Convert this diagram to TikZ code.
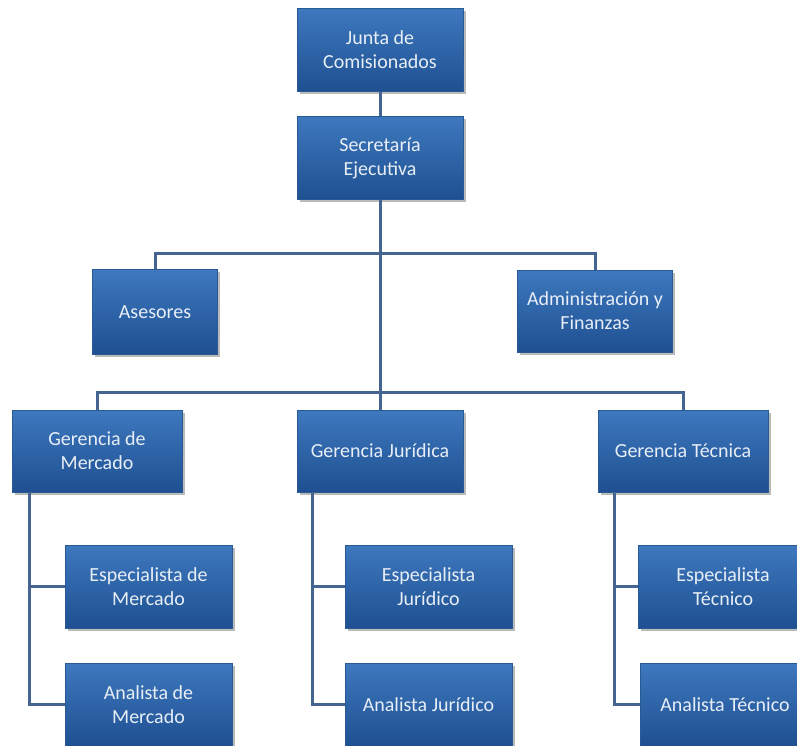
\documentclass[tikz,border=0pt]{standalone}
\usepackage{fontspec}
\setmainfont{Carlito}
\usetikzlibrary{shadows}
\definecolor{boxtop}{RGB}{62,120,190}
\definecolor{boxbot}{RGB}{30,80,145}
\definecolor{boxedge}{RGB}{40,90,150}
\definecolor{conncol}{RGB}{70,100,145}
\definecolor{txtcol}{RGB}{232,238,246}
\tikzset{
  orgbox/.style={draw=boxedge, line width=0.8pt, top color=boxtop, bottom color=boxbot,
    text=txtcol, align=center, inner sep=0pt,
    font=\fontsize{20}{24}\selectfont,
    drop shadow={shadow xshift=2.5pt, shadow yshift=-2.5pt, fill=black!45, opacity=0.6}},
  conn/.style={draw=conncol, line width=3pt}
}
\begin{document}
\begin{tikzpicture}[x=1pt,y=-1pt]
\useasboundingbox (0,0) rectangle (797,745);
\clip (0,0) rectangle (797,745);
\coordinate (b1) at (380,253);
\coordinate (b2) at (380,392);
\node[orgbox, minimum width=166pt, minimum height=83pt] (junta) at (380,50) {Junta de\\Comisionados};
\node[orgbox, minimum width=166pt, minimum height=83pt] (sec) at (380,158) {Secretaría\\Ejecutiva};
\node[orgbox, minimum width=125pt, minimum height=85pt] (ases) at (155,312) {Asesores};
\node[orgbox, minimum width=155pt, minimum height=82pt] (adm) at (595,311) {Administración y\\Finanzas};
\node[orgbox, minimum width=170pt, minimum height=82pt] (gmer) at (97,451) {Gerencia de\\Mercado};
\node[orgbox, minimum width=166pt, minimum height=82pt] (gjur) at (380,451) {Gerencia Jurídica};
\node[orgbox, minimum width=170pt, minimum height=82pt] (gtec) at (683,451) {Gerencia Técnica};
\node[orgbox, minimum width=167pt, minimum height=83pt] (emer) at (148.5,586.5) {Especialista de\\Mercado};
\node[orgbox, minimum width=167pt, minimum height=83pt] (amer) at (148.5,704.5) {Analista de\\Mercado};
\node[orgbox, minimum width=167pt, minimum height=83pt] (ejur) at (428.5,586.5) {Especialista\\Jurídico};
\node[orgbox, minimum width=167pt, minimum height=83pt] (ajur) at (428.5,704.5) {Analista Jurídico};
\node[orgbox, minimum width=170pt, minimum height=83pt] (etec) at (723,586.5) {Especialista\\Técnico};
\node[orgbox, minimum width=170pt, minimum height=83pt] (atec) at (725,704.5) {Analista Técnico};
% connectors
\draw[conn] (junta.south) -- (sec.north);
\draw[conn] (sec.south) -- (b2);
\draw[conn] (ases.north) |- (b1) -| (adm.north);
\draw[conn] (gmer.north) |- (b2) -| (gtec.north);
\draw[conn] (b2) -- (gjur.north);
\draw[conn] ([xshift=18pt]gmer.south west) |- (emer.west);
\draw[conn] ([xshift=18pt]gmer.south west) |- (amer.west);
\draw[conn] ([xshift=16pt]gjur.south west) |- (ejur.west);
\draw[conn] ([xshift=16pt]gjur.south west) |- (ajur.west);
\draw[conn] ([xshift=17pt]gtec.south west) |- (etec.west);
\draw[conn] ([xshift=17pt]gtec.south west) |- (atec.west);
\end{tikzpicture}
\end{document}
